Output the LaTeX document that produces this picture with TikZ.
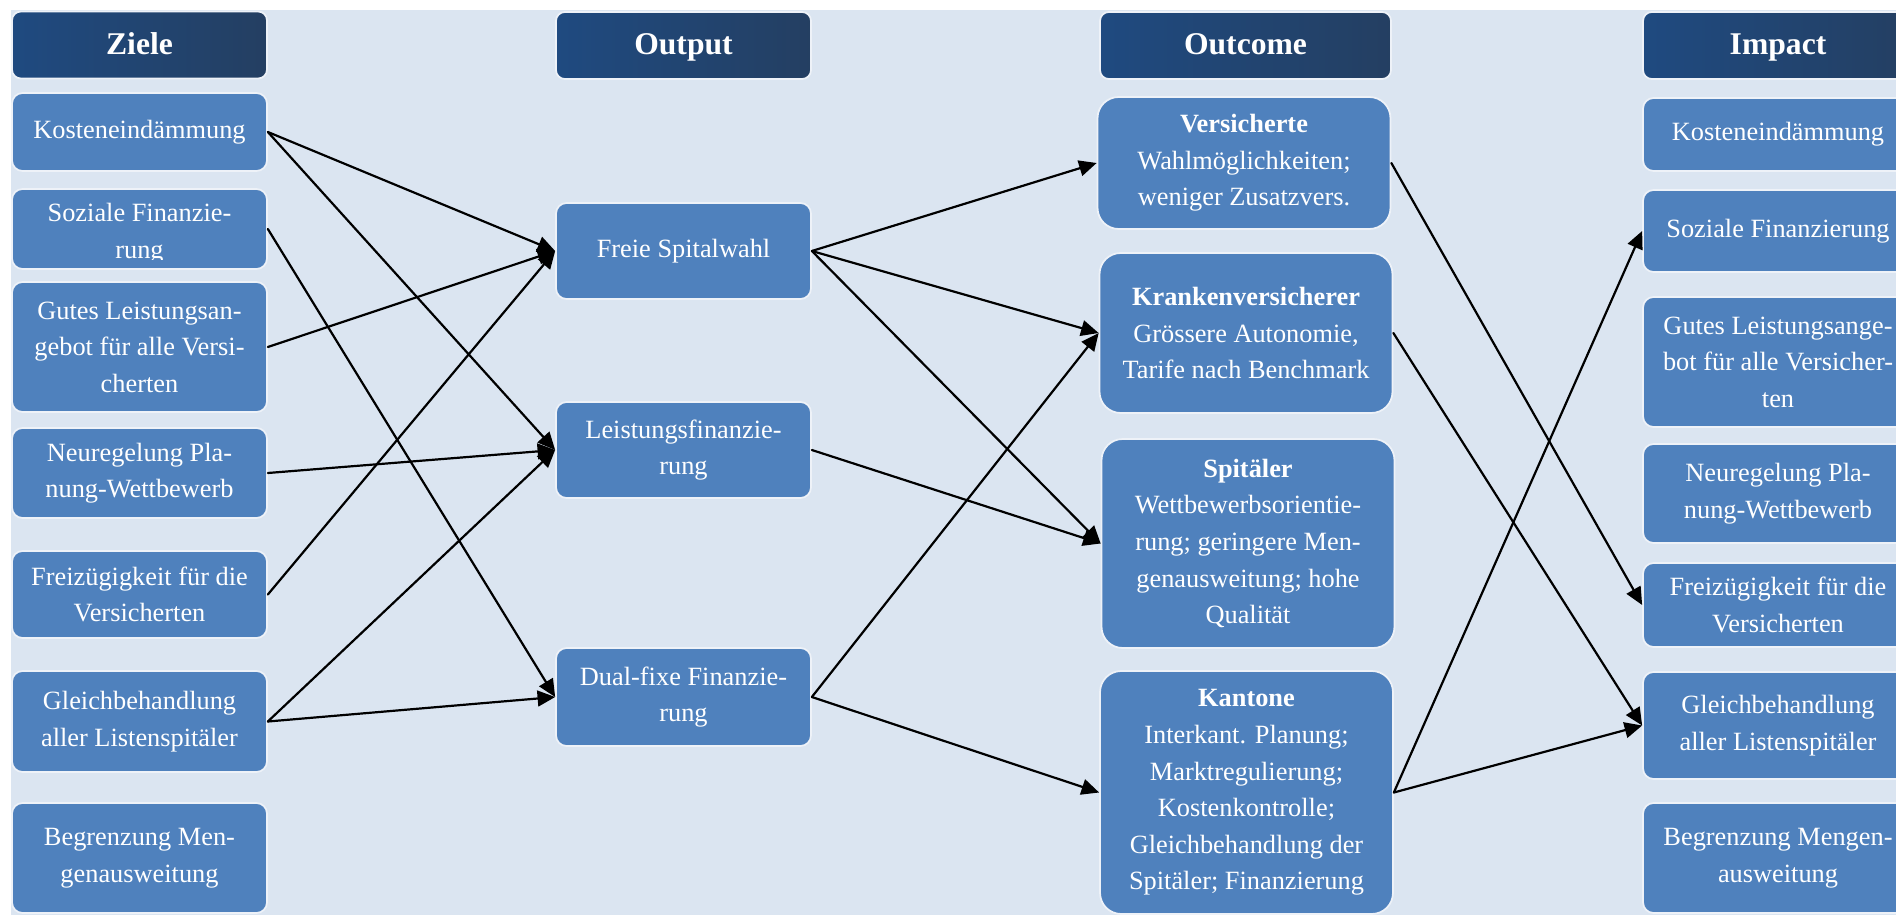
\documentclass[tikz,border=0pt]{standalone}
\usepackage{fontspec}
\setmainfont{Liberation Serif}
\usepackage{xcolor}
\usetikzlibrary{arrows.meta,calc}
\definecolor{bgblue}{HTML}{DBE5F1}
\definecolor{boxblue}{HTML}{4F81BD}
\definecolor{boxrim}{HTML}{EEF2F8}
\definecolor{hdtop}{HTML}{1F4A80}
\definecolor{hdbot}{HTML}{243F62}

\begin{document}
\begin{tikzpicture}[line cap=round,line join=round,>={Triangle[length=10pt,width=9pt]},x=0.02cm,y=-0.02cm,
    txt/.style={text=white,align=center,font=\fontsize{15}{20.8}\selectfont},
    hdr/.style={draw=boxrim,line width=1pt,rounded corners=5pt,left color=hdtop,right color=hdbot,text=white,font=\fontsize{18}{22}\selectfont\bfseries,minimum height=1.34cm,inner sep=0pt,text height=1.1em,text depth=0.05em},
    box/.style={txt,draw=boxrim,line width=1pt,rounded corners=6pt,fill=boxblue,inner sep=0pt},
    obox/.style={box,rounded corners=12pt,minimum width=5.86cm},
    lnk/.style={->,line width=1.25pt}]
                        \useasboundingbox (0,0) rectangle (1896,915);
                        \fill [bgblue] (11,10) rectangle (1896,915);
                        % column heads
                        \node [hdr,minimum width=5.1cm] (hz) at (139.5,45) {Ziele};
                        \node [hdr,minimum width=5.1cm] (ho) at (683.5,45.5) {Output};
                        \node [hdr,minimum width=5.82cm] (hc) at (1245.5,45.5) {Outcome};
                        \node [hdr,minimum width=5.4cm] (hi) at (1778,45.5) {Impact};
                        % Ziele
                        \node [box,minimum width=5.1cm,minimum height=1.56cm] (z1) at (139.5,132) {Kosteneindämmung};
                        \node [box,minimum width=5.1cm,minimum height=1.6cm] (z2) at (139.5,229) {};
                        \begin{scope}
                            \clip (12,189) rectangle (267,260);
                            \node [txt] at (139.5,233.5) {Soziale Finanzie-\\rung};
                        \end{scope}
                        \node [box,minimum width=5.1cm,minimum height=2.6cm] (z3) at (139.5,347) {Gutes Leistungsan-\\gebot für alle Versi-\\cherten};
                        \node [box,minimum width=5.1cm,minimum height=1.8cm] (z4) at (139.5,473) {Neuregelung Pla-\\nung-Wettbewerb};
                        \node [box,minimum width=5.1cm,minimum height=1.74cm] (z5) at (139.5,594.5) {Freizügigkeit für die\\Versicherten};
                        \node [box,minimum width=5.1cm,minimum height=2.02cm] (z6) at (139.5,721.5) {Gleichbehandlung\\aller Listenspitäler};
                        \node [box,minimum width=5.1cm,minimum height=2.2cm] (z7) at (139.5,858) {Begrenzung Men-\\genausweitung};
                        % Output
                        \node [box,minimum width=5.1cm,minimum height=1.92cm] (o1) at (683.5,251) {Freie Spitalwahl};
                        \node [box,minimum width=5.1cm,minimum height=1.92cm] (o2) at (683.5,450) {Leistungsfinanzie-\\rung};
                        \node [box,minimum width=5.1cm,minimum height=1.96cm] (o3) at (683.5,697) {Dual-fixe Finanzie-\\rung};
                        % Outcome
                        \node [obox,minimum height=2.64cm] (c1) at (1244,163) {\textbf{Versicherte}\\Wahlmöglichkeiten;\\weniger Zusatzvers.};
                        \node [obox,minimum height=3.2cm] (c2) at (1246,333) {\textbf{Krankenversicherer}\\Grössere Autonomie,\\Tarife nach Benchmark};
                        \node [obox,minimum height=4.18cm] (c3) at (1248,543.5) {\textbf{Spitäler}\\Wettbewerbsorientie-\\rung; geringere Men-\\genausweitung; hohe\\Qualität};
                        \node [obox,minimum height=4.86cm] (c4) at (1246.5,792.5) {\textbf{Kantone}\\Interkant. Planung;\\Marktregulierung;\\Kostenkontrolle;\\Gleichbehandlung der\\Spitäler; Finanzierung};
                        % Impact
                        \node [box,minimum width=5.4cm,minimum height=1.46cm] (i1) at (1778,134.5) {Kosteneindämmung};
                        \node [box,minimum width=5.4cm,minimum height=1.64cm] (i2) at (1778,231) {Soziale Finanzierung};
                        \node [box,minimum width=5.4cm,minimum height=2.6cm] (i3) at (1778,362) {Gutes Leistungsange-\\bot für alle Versicher-\\ten};
                        \node [box,minimum width=5.4cm,minimum height=1.98cm] (i4) at (1778,493.5) {Neuregelung Pla-\\nung-Wettbewerb};
                        \node [box,minimum width=5.4cm,minimum height=1.68cm] (i5) at (1778,605) {Freizügigkeit für die\\Versicherten};
                        \node [box,minimum width=5.4cm,minimum height=2.14cm] (i6) at (1778,725.5) {Gleichbehandlung\\aller Listenspitäler};
                        \node [box,minimum width=5.4cm,minimum height=2.2cm] (i7) at (1778,858) {Begrenzung Mengen-\\ausweitung};
                        % Ziele -> Output
                        \draw [lnk] (z1.east) -- (o1.west);
                        \draw [lnk] (z1.east) -- (o2.west);
                        \draw [lnk] (z2.east) -- (o3.west);
                        \draw [lnk] (z3.east) -- (o1.west);
                        \draw [lnk] (z4.east) -- (o2.west);
                        \draw [lnk] (z5.east) -- (o1.west);
                        \draw [lnk] (z6.east) -- (o2.west);
                        \draw [lnk] (z6.east) -- (o3.west);
                        % Output -> Outcome
                        \draw [lnk] (o1.east) -- (c1.west);
                        \draw [lnk] (o1.east) -- (c2.west);
                        \draw [lnk] (o1.east) -- (c3.west);
                        \draw [lnk] (o2.east) -- (c3.west);
                        \draw [lnk] (o3.east) -- (c2.west);
                        \draw [lnk] (o3.east) -- (c4.west);
                        % Outcome -> Impact
                        \draw [lnk] (c1.east) -- (i5.west);
                        \draw [lnk] (c2.east) -- (i6.west);
                        \draw [lnk] (c4.east) -- (i2.west);
                        \draw [lnk] (c4.east) -- (i6.west);
\end{tikzpicture}
\end{document}
